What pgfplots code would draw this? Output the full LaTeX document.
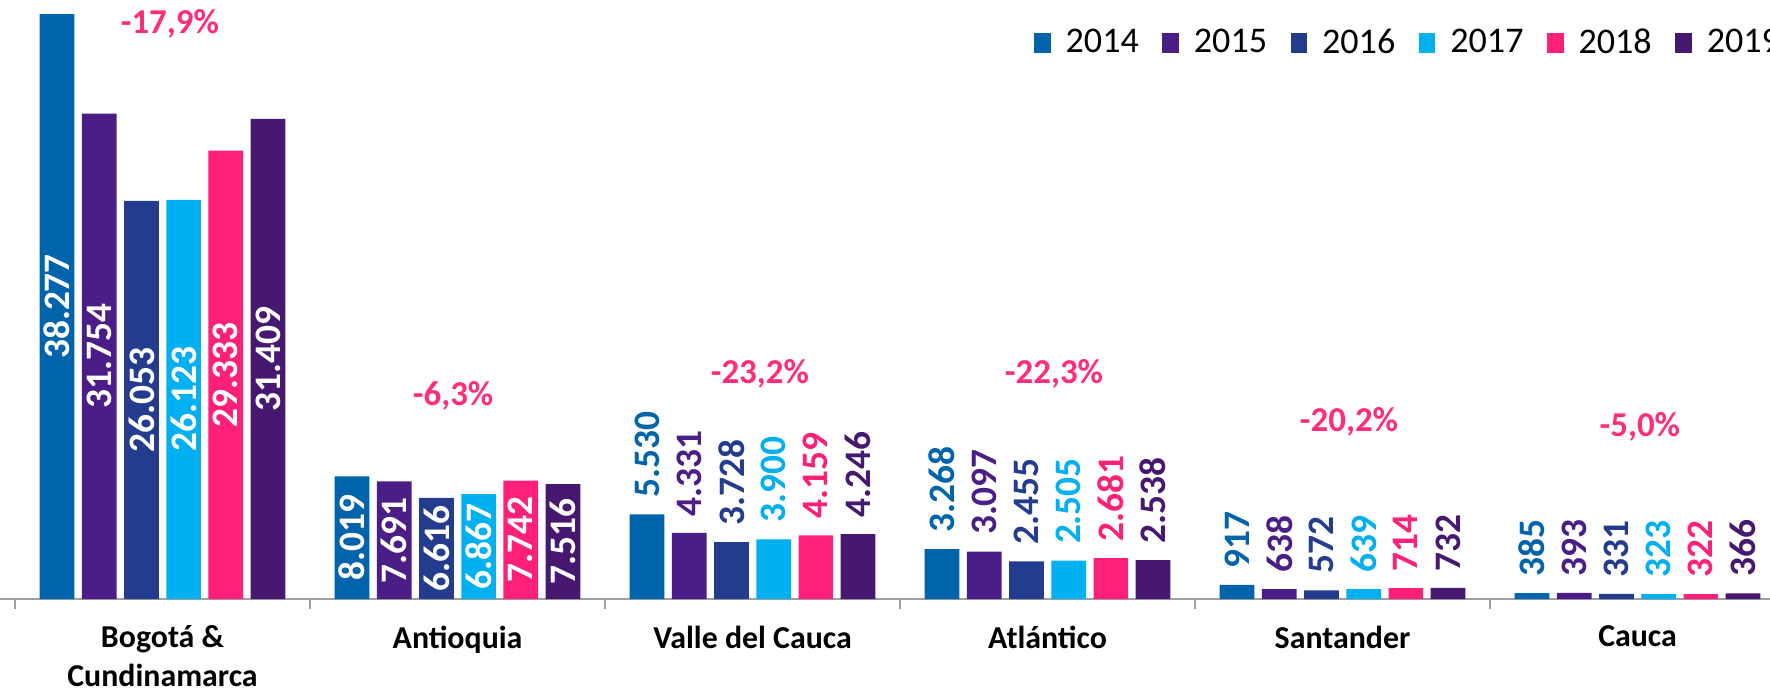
\documentclass[border=0pt]{standalone}
\usepackage{pgfplots}
\usepackage{pgfplotstable}
\pgfplotsset{compat=1.18}
\usepackage{fontspec}
\setmainfont{Carlito}
\definecolor{cA}{HTML}{0064AC}
\definecolor{cB}{HTML}{4B1E87}
\definecolor{cC}{HTML}{233C8E}
\definecolor{cD}{HTML}{00B0F0}
\definecolor{cE}{HTML}{FF2079}
\definecolor{cF}{HTML}{461870}
\definecolor{cPct}{HTML}{FF2D7C}
\definecolor{axgray}{HTML}{A0A0A0}

\pgfplotstableread{
x y lab
0 38.277 38.277
1 8.019 8.019
2 5.530 5.530
3 3.268 3.268
4 0.917 917
5 0.385 385
}\tA
\pgfplotstableread{
x y lab
0 31.754 31.754
1 7.691 7.691
2 4.331 4.331
3 3.097 3.097
4 0.638 638
5 0.393 393
}\tB
\pgfplotstableread{
x y lab
0 26.053 26.053
1 6.616 6.616
2 3.728 3.728
3 2.455 2.455
4 0.572 572
5 0.331 331
}\tC
\pgfplotstableread{
x y lab
0 26.123 26.123
1 6.867 6.867
2 3.900 3.900
3 2.505 2.505
4 0.639 639
5 0.323 323
}\tD
\pgfplotstableread{
x y lab
0 29.333 29.333
1 7.742 7.742
2 4.159 4.159
3 2.681 2.681
4 0.714 714
5 0.322 322
}\tE
\pgfplotstableread{
x y lab
0 31.409 31.409
1 7.516 7.516
2 4.246 4.246
3 2.538 2.538
4 0.732 732
5 0.366 366
}\tF

\pgfplotsset{
  inlab/.style={nodes near coords, point meta=explicit symbolic,
     visualization depends on={y \as \rawy},
     restrict x to domain=-1:1.5,
     nodes near coords style={font=\fontsize{15}{15}\selectfont\bfseries, text=white, inner sep=0pt, anchor=center, shift={(axis direction cs:0,-\rawy/2)}, rotate=90}},
  outlab/.style={nodes near coords, point meta=explicit symbolic,
     restrict x to domain=1.5:6,
     nodes near coords style={font=\fontsize{15}{15}\selectfont\bfseries, text=#1, inner sep=0pt, yshift=6.5bp, rotate=90, anchor=west}},
}

\begin{document}
\begin{tikzpicture}
\begin{axis}[
  at={(0,0)}, anchor=south west,
  scale only axis, width=708bp, height=239.6bp,
  xmin=-0.551, xmax=5.449, ymin=0, ymax=39.193,
  ybar, bar width=13.88bp,
  axis y line=none, axis x line=bottom,
  x axis line style={-, draw=axgray, line width=0.8bp},
  xtick={0,...,5},
  xticklabels={{Bogotá \&\\Cundinamarca},Antioquia,Valle del Cauca,Atlántico,Santander,Cauca},
  major tick length=0pt,
  major x tick style={draw=none},
  minor xtick={-0.5,0.5,...,5.5},
  minor tick length=4bp, tick align=outside,
  minor x tick style={draw=axgray, line width=0.8bp},
  xticklabel style={font=\fontsize{12.8}{15.6}\selectfont\bfseries, align=center, inner sep=0pt, yshift=-10.5bp},
  clip=false,
  legend columns=6,
  legend style={at={(rel axis cs:0.5840,0.9282)}, anchor=west, draw=none, fill=none, inner sep=0pt, column sep=0pt,
    font=\fontsize{14.5}{17}\selectfont, nodes={inner sep=0pt},
    /tikz/every odd column/.append style={column sep=6bp},
    /tikz/every even column/.append style={column sep=9.4bp}},
  legend image code/.code={\fill[#1] (0bp,-3.9bp) rectangle (6.6bp,3.9bp);},
  legend entries={2014,2015,2016,2017,2018,2019},
]
\addplot[fill=cA, draw=none, bar shift=-42.2bp, inlab] table[x=x, y=y, meta=lab] {\tA};
\addplot[fill=cA, draw=none, bar shift=-42.2bp, outlab=cA, forget plot] table[x=x, y=y, meta=lab] {\tA};
\addplot[fill=cB, draw=none, bar shift=-25.32bp, inlab] table[x=x, y=y, meta=lab] {\tB};
\addplot[fill=cB, draw=none, bar shift=-25.32bp, outlab=cB, forget plot] table[x=x, y=y, meta=lab] {\tB};
\addplot[fill=cC, draw=none, bar shift=-8.44bp, inlab] table[x=x, y=y, meta=lab] {\tC};
\addplot[fill=cC, draw=none, bar shift=-8.44bp, outlab=cC, forget plot] table[x=x, y=y, meta=lab] {\tC};
\addplot[fill=cD, draw=none, bar shift=8.44bp, inlab] table[x=x, y=y, meta=lab] {\tD};
\addplot[fill=cD, draw=none, bar shift=8.44bp, outlab=cD, forget plot] table[x=x, y=y, meta=lab] {\tD};
\addplot[fill=cE, draw=none, bar shift=25.32bp, inlab] table[x=x, y=y, meta=lab] {\tE};
\addplot[fill=cE, draw=none, bar shift=25.32bp, outlab=cE, forget plot] table[x=x, y=y, meta=lab] {\tE};
\addplot[fill=cF, draw=none, bar shift=42.2bp, inlab] table[x=x, y=y, meta=lab] {\tF};
\addplot[fill=cF, draw=none, bar shift=42.2bp, outlab=cF, forget plot] table[x=x, y=y, meta=lab] {\tF};

\begin{scope}[every node/.style={font=\fontsize{14}{14}\selectfont\bfseries, text=cPct}]
\node at (axis cs:0.025,37.64) {-17,9\%};
\node at (axis cs:0.985,13.28) {-6,3\%};
\node at (axis cs:2.025,14.72) {-23,2\%};
\node at (axis cs:3.022,14.72) {-22,3\%};
\node at (axis cs:4.022,11.61) {-20,2\%};
\node at (axis cs:5.008,11.25) {-5,0\%};
\end{scope}
\end{axis}
\pgfresetboundingbox
\path[use as bounding box] (0,-36.8bp) rectangle (708bp,239.6bp);
\end{tikzpicture}
\end{document}
